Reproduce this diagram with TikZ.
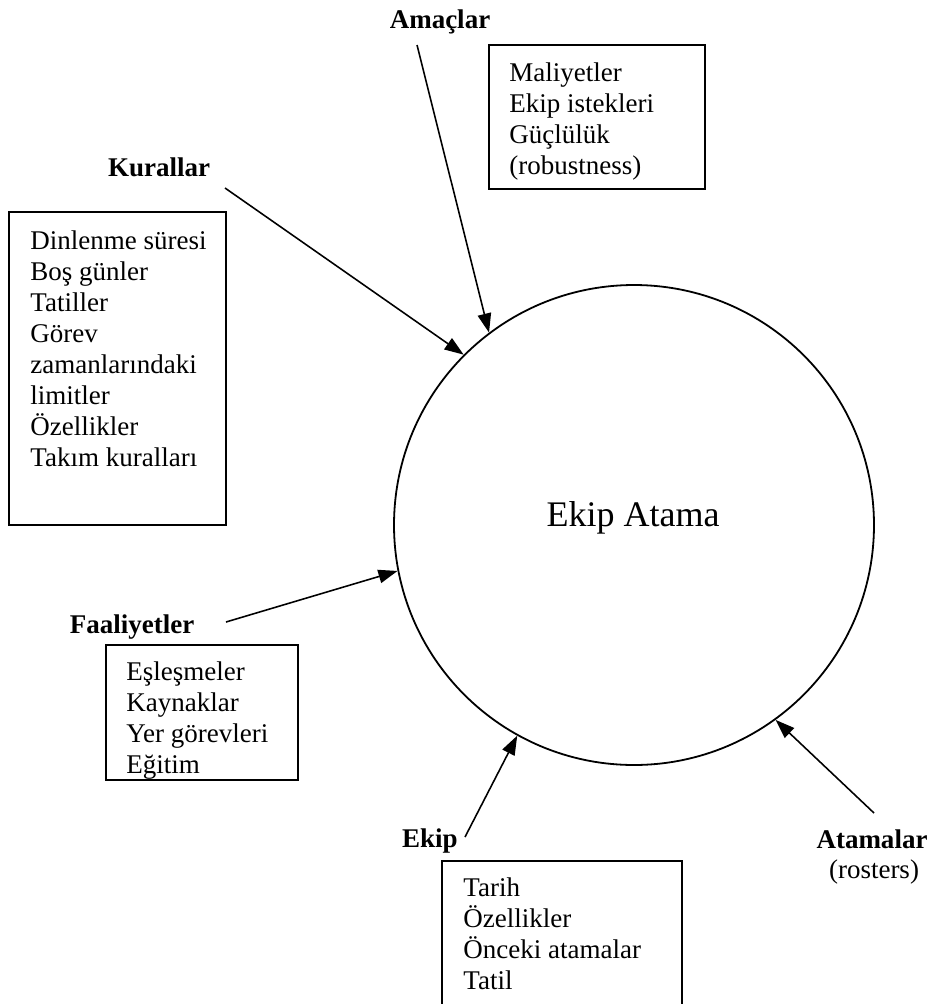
\documentclass[tikz,border=0pt]{standalone}
\usepackage{fontspec}
\setmainfont{Liberation Serif}
\usetikzlibrary{arrows.meta,fit}
\begin{document}
\begin{tikzpicture}[x=0.4444pt,y=-0.4444pt,
  frame/.style={draw, line width=0.7pt, inner sep=0pt},
  list/.style={anchor=north west, align=left, inner sep=0pt,
    font=\fontsize{12pt}{13.8pt}\selectfont},
  head/.style={anchor=base, inner sep=0pt,
    font=\fontsize{12pt}{13.8pt}\selectfont\bfseries},
  feed/.style={line width=0.7pt, -{Triangle[length=8.5pt,width=6pt]}},
  hub/.style={draw, circle, line width=0.8pt, minimum size=213.3pt,
    inner sep=0pt}]
\useasboundingbox (0,0) rectangle (929,1004);
\clip (0,0) rectangle (929,1004);

% central process
\node[hub] (hub) at (634,525) {};
\node[anchor=base, inner sep=0pt, font=\fontsize{16pt}{19pt}\selectfont]
  (title) at (633,526) {Ekip Atama};

% goals
\node[head] (goals) at (440,28) {Amaçlar};
\node[frame, fit={(489,45) (705,189)}] (goalbox) {};
\node[list] (goallist) at (509,62) {Maliyetler\\Ekip istekleri\\Güçlülük\\(robustness)};
\coordinate (goalsfrom) at (417,45);
\draw[feed] (goalsfrom) -- (hub.127.1);

% rules
\node[head] (rules) at (159,176) {Kurallar};
\node[frame, fit={(9,212) (226,525)}] (rulebox) {};
\node[list] (rulelist) at (30,230) {Dinlenme süresi\\Boş günler\\Tatiller\\Görev\\zamanlarındaki\\limitler\\Özellikler\\Takım kuralları};
\coordinate (rulesfrom) at (225,188);
\draw[feed] (rulesfrom) -- (hub.135.3);

% activities
\node[head] (acts) at (132,633) {Faaliyetler};
\node[frame, fit={(106,645) (298,780)}] (actbox) {};
\node[list] (actlist) at (126,661) {Eşleşmeler\\Kaynaklar\\Yer görevleri\\Eğitim};
\coordinate (actsfrom) at (226,622);
\draw[feed] (actsfrom) -- (hub.191);

% crew
\node[head, anchor=base east] (crew) at (458,847) {Ekip};
\node[frame, fit={(442,861) (682,1015)}] (crewbox) {};
\node[list] (crewlist) at (463,877) {Tarih\\Özellikler\\Önceki atamalar\\Tatil};
\coordinate (crewfrom) at (465,837);
\draw[feed] (crewfrom) -- (hub.241);

% rosters
\node[head] (rost) at (872,848) {Atamalar};
\node[anchor=base, inner sep=0pt, font=\fontsize{12pt}{13.8pt}\selectfont]
  (rostnote) at (874,878) {(rosters)};
\coordinate (rostfrom) at (874,813);
\draw[feed] (rostfrom) -- (hub.306.9);
\end{tikzpicture}
\end{document}
